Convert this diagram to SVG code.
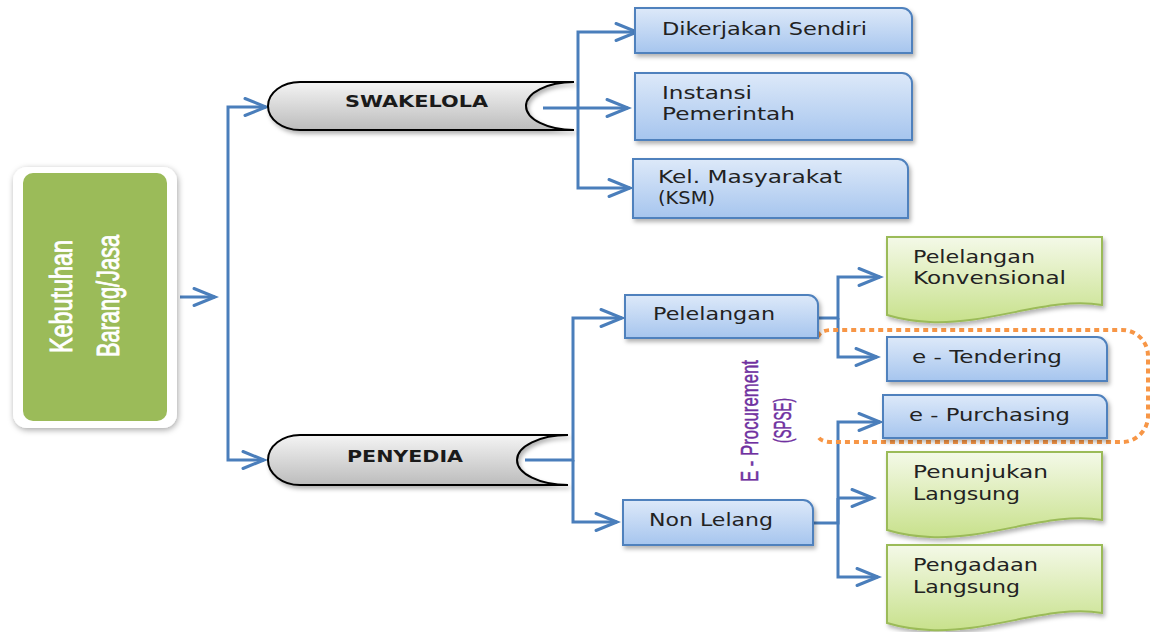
<svg xmlns="http://www.w3.org/2000/svg" width="1152" height="632" viewBox="0 0 1152 632">
<defs>
<style>
.conn{fill:none;stroke:#4A7EBB;stroke-width:3;stroke-linejoin:miter}
.box{fill:url(#gBlue);stroke:#4F81BD;stroke-width:2;filter:url(#sh)}
.doc{fill:url(#gGreen);stroke:#9BBB59;stroke-width:2;filter:url(#sh)}
.cyl{fill:url(#gGray);stroke:#000;stroke-width:2;filter:url(#sh)}
.t{font-family:"DejaVu Sans","Open Sans",sans-serif;font-size:17px;fill:#222}
.tb{font-family:"DejaVu Sans","Open Sans",sans-serif;font-size:16.5px;font-weight:bold;fill:#1a1a1a}
.tr{font-family:"Liberation Sans Narrow","Liberation Sans",sans-serif}
</style>
<linearGradient id="gBlue" x1="0" y1="0" x2="0" y2="1"><stop offset="0" stop-color="#dde9f9"/><stop offset="1" stop-color="#a6c5ee"/></linearGradient>
<linearGradient id="gGreen" x1="0" y1="0" x2="0" y2="1"><stop offset="0" stop-color="#f4f9e8"/><stop offset="1" stop-color="#c8e18c"/></linearGradient>
<linearGradient id="gGray" x1="0" y1="0" x2="0" y2="1"><stop offset="0" stop-color="#f4f4f4"/><stop offset="1" stop-color="#bcbcbc"/></linearGradient>
<filter id="sh" x="-10%" y="-20%" width="130%" height="150%"><feDropShadow dx="2" dy="3" stdDeviation="2" flood-color="#000" flood-opacity="0.3"/></filter>
<filter id="glow" x="-20%" y="-20%" width="140%" height="140%"><feDropShadow dx="1" dy="2" stdDeviation="3" flood-color="#000" flood-opacity="0.35"/></filter>
<marker id="ah" markerUnits="userSpaceOnUse" markerWidth="30" markerHeight="24" refX="22" refY="10" orient="auto" viewBox="0 0 30 24" overflow="visible">
<path d="M1,1.5 L22,10 L1,18.5" fill="none" stroke="#4A7EBB" stroke-width="3" stroke-linecap="round"/>
</marker>
</defs>
<rect width="1152" height="632" fill="#fff"/>

<g id="connectors">
<path class="conn" d="M180,297 H215" marker-end="url(#ah)"/>
<path class="conn" d="M228,300 V107 H266" marker-end="url(#ah)"/>
<path class="conn" d="M228,300 V460 H264" marker-end="url(#ah)"/>
<path class="conn" d="M543,108 H628" marker-end="url(#ah)"/>
<path class="conn" d="M578,108 V32 H637" marker-end="url(#ah)"/>
<path class="conn" d="M578,108 V188 H630" marker-end="url(#ah)"/>
<path class="conn" d="M525,460 H573 V318 H622" marker-end="url(#ah)"/>
<path class="conn" d="M573,460 V522 H617" marker-end="url(#ah)"/>
<path class="conn" d="M818,318 H838 V277 H880" marker-end="url(#ah)"/>
<path class="conn" d="M838,318 V357 H877" marker-end="url(#ah)"/>
<path class="conn" d="M813,523 H838 V422 H880" marker-end="url(#ah)"/>
<path class="conn" d="M838,498 H873" marker-end="url(#ah)"/>
<path class="conn" d="M838,498 V577 H878" marker-end="url(#ah)"/>
</g>

<g id="eproc-boundary">
<path d="M818,337 Q820,330 832,330 H1122 A26,26 0 0 1 1148,356 V416 A26,26 0 0 1 1122,442 H832 Q820,442 818,436" fill="none" stroke="#F79646" stroke-width="4" stroke-dasharray="5 4"/>
</g>

<g id="kebutuhan">
<rect x="13" y="167" width="164" height="261" rx="14" fill="#fff" filter="url(#glow)"/>
<rect x="23" y="173" width="144" height="248" rx="10" fill="#9BBB59"/>
<text class="tr" font-size="24" fill="#fff" stroke="#fff" stroke-width="0.7" transform="translate(72,353) scale(1.3,1) rotate(-90)" textLength="113" lengthAdjust="spacingAndGlyphs">Kebutuhan</text>
<text class="tr" font-size="24" fill="#fff" stroke="#fff" stroke-width="0.7" transform="translate(119,357) scale(1.3,1) rotate(-90)" textLength="122" lengthAdjust="spacingAndGlyphs">Barang/Jasa</text>
</g>

<g id="swakelola">
<path class="cyl" d="M300,82 H574 A48,24 0 0 0 574,130 H300 A32,24 0 0 1 300,82 Z"/>
<text class="tb" x="345" y="107" textLength="143" lengthAdjust="spacingAndGlyphs">SWAKELOLA</text>
</g>

<g id="penyedia">
<path class="cyl" d="M300,435 H568 A51,25 0 0 0 568,485 H300 A32,25 0 0 1 300,435 Z"/>
<text class="tb" x="347" y="462" textLength="116" lengthAdjust="spacingAndGlyphs">PENYEDIA</text>
</g>

<g id="dikerjakan">
<path class="box" d="M635,8 H902 A10,10 0 0 1 912,18 V53 H635 Z"/>
<text class="t" x="662" y="35" textLength="205" lengthAdjust="spacingAndGlyphs">Dikerjakan Sendiri</text>
</g>

<g id="instansi">
<path class="box" d="M635,73 H902 A10,10 0 0 1 912,83 V140 H635 Z"/>
<text class="t" x="662" y="99" textLength="90" lengthAdjust="spacingAndGlyphs">Instansi</text>
<text class="t" x="662" y="120" textLength="133" lengthAdjust="spacingAndGlyphs">Pemerintah</text>
</g>

<g id="ksm">
<path class="box" d="M633,159 H898 A10,10 0 0 1 908,169 V218 H633 Z"/>
<text class="t" x="658" y="183" textLength="184" lengthAdjust="spacingAndGlyphs">Kel. Masyarakat</text>
<text class="t" x="658" y="204" textLength="57" lengthAdjust="spacingAndGlyphs">(KSM)</text>
</g>

<g id="pelelangan">
<path class="box" d="M625,295 H808 A10,10 0 0 1 818,305 V338 H625 Z"/>
<text class="t" x="653" y="320" textLength="122" lengthAdjust="spacingAndGlyphs">Pelelangan</text>
</g>

<g id="nonlelang">
<path class="box" d="M623,500 H803 A10,10 0 0 1 813,510 V545 H623 Z"/>
<text class="t" x="649" y="526" textLength="124" lengthAdjust="spacingAndGlyphs">Non Lelang</text>
</g>

<g id="eproc-label">
<text class="tr" font-size="19" fill="#7030A0" stroke="#7030A0" stroke-width="0.4" transform="translate(758,482) scale(1.3,1) rotate(-90)" textLength="122" lengthAdjust="spacingAndGlyphs">E - Procurement</text>
<text class="tr" font-size="19" fill="#7030A0" stroke="#7030A0" stroke-width="0.4" transform="translate(791,443) scale(1.3,1) rotate(-90)" textLength="45" lengthAdjust="spacingAndGlyphs">(SPSE)</text>
</g>

<g id="konvensional">
<path class="doc" d="M887,237 H1102 V305 C1050,296 990,325 930,322 C910,321 897,318 887,315 Z"/>
<text class="t" x="913" y="263" textLength="122" lengthAdjust="spacingAndGlyphs">Pelelangan</text>
<text class="t" x="913" y="284" textLength="153" lengthAdjust="spacingAndGlyphs">Konvensional</text>
</g>

<g id="etendering">
<path class="box" d="M887,337 H1097 A10,10 0 0 1 1107,347 V381 H887 Z"/>
<text class="t" x="912" y="363" textLength="150" lengthAdjust="spacingAndGlyphs">e - Tendering</text>
</g>

<g id="epurchasing">
<path class="box" d="M883,395 H1097 A10,10 0 0 1 1107,405 V438 H883 Z"/>
<text class="t" x="909" y="421" textLength="161" lengthAdjust="spacingAndGlyphs">e - Purchasing</text>
</g>

<g id="penunjukan">
<path class="doc" d="M887,452 H1102 V520 C1050,511 990,540 930,537 C910,536 897,533 887,530 Z"/>
<text class="t" x="913" y="478" textLength="135" lengthAdjust="spacingAndGlyphs">Penunjukan</text>
<text class="t" x="913" y="500" textLength="107" lengthAdjust="spacingAndGlyphs">Langsung</text>
</g>

<g id="pengadaan">
<path class="doc" d="M887,545 H1102 V613 C1050,604 990,633 930,630 C910,629 897,626 887,623 Z"/>
<text class="t" x="913" y="571" textLength="125" lengthAdjust="spacingAndGlyphs">Pengadaan</text>
<text class="t" x="913" y="593" textLength="107" lengthAdjust="spacingAndGlyphs">Langsung</text>
</g>
</svg>
